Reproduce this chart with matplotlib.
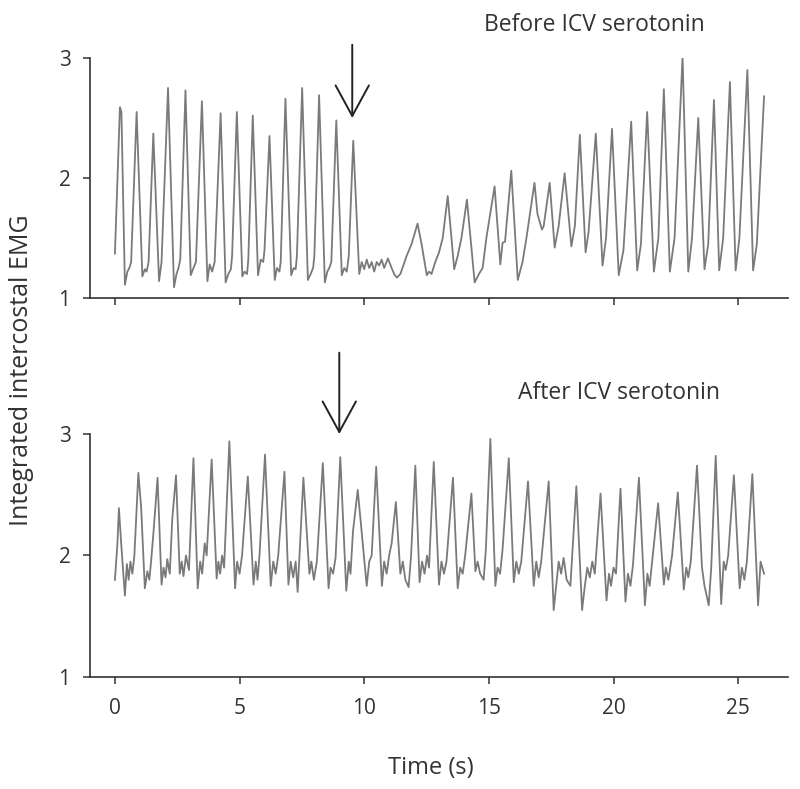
import matplotlib.pyplot as plt

# Integrated intercostal EMG, keypoints (time in s, arbitrary units)
before_t = [0.0, 0.2, 0.26, 0.4, 0.5, 0.58, 0.65,
            0.87, 1.1, 1.2, 1.27, 1.35,
            1.54, 1.77, 1.87,
            2.13, 2.37, 2.47, 2.55, 2.62,
            2.83, 3.04, 3.15, 3.25,
            3.49, 3.71, 3.8, 3.9, 4.0,
            4.24, 4.44, 4.55, 4.65, 4.7,
            4.89, 5.11, 5.2, 5.3, 5.35,
            5.53, 5.74, 5.85, 5.95, 6.0,
            6.2, 6.41, 6.5, 6.6, 6.65,
            6.84, 7.07, 7.17, 7.25, 7.3,
            7.51, 7.74, 7.85, 7.95, 8.0,
            8.19, 8.42, 8.52, 8.6, 8.68,
            8.88, 9.1, 9.2, 9.3, 9.38,
            9.56, 9.8, 9.9, 10.0, 10.1, 10.2, 10.3, 10.4, 10.5, 10.6, 10.7, 10.8,
            10.95, 11.1, 11.2, 11.31, 11.45,
            11.7, 11.9, 12.14, 12.3, 12.51, 12.6, 12.7, 12.85, 13.0, 13.15,
            13.35, 13.61, 13.75, 13.9, 14.12, 14.43, 14.6, 14.75, 14.9,
            15.23, 15.46, 15.55, 15.65, 15.9, 16.16, 16.35, 16.5, 16.83, 16.95, 17.13, 17.2,
            17.44, 17.64, 17.8, 18.04, 18.31, 18.45,
            18.65, 18.88, 19.0, 19.29, 19.56, 19.7, 19.94, 20.21, 20.4, 20.71, 20.95, 21.1,
            21.35, 21.62, 21.8, 22.02, 22.26, 22.45, 22.77, 23.0, 23.15, 23.4, 23.65, 23.8,
            24.03, 24.24, 24.4, 24.67, 24.9, 25.05, 25.37, 25.6, 25.75, 26.04]
before_v = [1.37, 2.59, 2.55, 1.11, 1.22, 1.25, 1.3,
            2.55, 1.18, 1.24, 1.22, 1.3,
            2.37, 1.14, 1.3,
            2.75, 1.09, 1.2, 1.25, 1.32,
            2.73, 1.19, 1.25, 1.3,
            2.64, 1.14, 1.28, 1.22, 1.3,
            2.54, 1.13, 1.2, 1.24, 1.35,
            2.55, 1.18, 1.22, 1.2, 1.32,
            2.52, 1.19, 1.32, 1.3, 1.4,
            2.35, 1.15, 1.25, 1.22, 1.3,
            2.66, 1.19, 1.25, 1.24, 1.35,
            2.75, 1.15, 1.2, 1.25, 1.35,
            2.69, 1.13, 1.22, 1.25, 1.3,
            2.48, 1.19, 1.25, 1.22, 1.35,
            2.31, 1.2, 1.3, 1.24, 1.32, 1.25, 1.3, 1.22, 1.3, 1.27, 1.32, 1.25,
            1.33, 1.25, 1.2, 1.17, 1.2,
            1.35, 1.45, 1.62, 1.45, 1.19, 1.22, 1.2, 1.3, 1.38, 1.5,
            1.85, 1.24, 1.35, 1.5, 1.82, 1.13, 1.2, 1.25, 1.5,
            1.93, 1.28, 1.46, 1.47, 2.06, 1.15, 1.3, 1.49, 1.96, 1.7, 1.57, 1.6,
            1.96, 1.42, 1.6, 2.04, 1.43, 1.6,
            2.36, 1.38, 1.55, 2.37, 1.27, 1.5, 2.41, 1.19, 1.4, 2.47, 1.23, 1.45,
            2.55, 1.22, 1.5, 2.74, 1.22, 1.5, 3.01, 1.22, 1.5, 2.5, 1.24, 1.45,
            2.65, 1.23, 1.5, 2.8, 1.23, 1.5, 2.9, 1.23, 1.45, 2.68]

after_t = [0.0, 0.1, 0.16, 0.25, 0.4, 0.48, 0.55, 0.62, 0.7, 0.78,
           0.94, 1.05, 1.2, 1.3, 1.38, 1.45, 1.55,
           1.71, 1.87, 1.95, 2.03, 2.1, 2.2, 2.3,
           2.45, 2.6, 2.68, 2.75, 2.85, 2.97,
           3.15, 3.32, 3.42, 3.5, 3.6, 3.68,
           3.88, 4.08, 4.15, 4.22, 4.3, 4.38,
           4.59, 4.82, 4.9, 5.0, 5.1,
           5.33, 5.56, 5.65, 5.72, 5.8,
           6.02, 6.25, 6.35, 6.45, 6.55,
           6.8, 6.96, 7.05, 7.15, 7.25, 7.33,
           7.56, 7.8, 7.88, 7.98, 8.1,
           8.34, 8.57, 8.65, 8.75, 8.85,
           9.04, 9.28, 9.38, 9.45, 9.55,
           9.74, 9.85, 10.1, 10.2, 10.3,
           10.48, 10.71, 10.8, 10.9, 11.0, 11.1,
           11.27, 11.45, 11.55, 11.65, 11.78, 11.88,
           12.05, 12.22, 12.32, 12.42, 12.52, 12.6,
           12.79, 13.0, 13.1, 13.2, 13.3,
           13.56, 13.75, 13.85, 13.95, 14.05,
           14.3, 14.46, 14.55, 14.65, 14.79, 14.88,
           15.06, 15.26, 15.35, 15.45, 15.55,
           15.8, 16.0, 16.1, 16.2, 16.3,
           16.57, 16.8, 16.9, 17.0, 17.1,
           17.4, 17.6, 17.7, 17.8, 17.9, 18.0, 18.12, 18.27,
           18.51, 18.74, 18.85, 18.95, 19.05, 19.15, 19.25,
           19.48, 19.72, 19.82, 19.9, 20.0, 20.1,
           20.28, 20.48, 20.58, 20.68, 20.78,
           21.02, 21.26, 21.36, 21.45, 21.55,
           21.79, 22.02, 22.1, 22.2, 22.35,
           22.58, 22.82, 22.92, 23.0, 23.1,
           23.35, 23.55, 23.65, 23.82, 23.92,
           24.1, 24.32, 24.42, 24.5, 24.6,
           24.83, 25.06, 25.15, 25.25, 25.35,
           25.57, 25.8, 25.9, 26.04]
after_v = [1.8, 2.1, 2.39, 2.1, 1.67, 1.93, 1.8, 1.95, 1.85, 2.0,
           2.68, 2.4, 1.73, 1.87, 1.8, 1.95, 2.2,
           2.64, 1.76, 1.9, 1.82, 1.97, 1.85, 2.3,
           2.66, 1.85, 1.95, 1.83, 2.0, 1.88,
           2.8, 1.73, 1.95, 1.85, 2.1, 2.0,
           2.79, 1.81, 1.95, 1.85, 2.0, 1.9,
           2.94, 1.73, 1.95, 1.85, 2.0,
           2.65, 1.76, 1.95, 1.8, 2.0,
           2.83, 1.75, 1.95, 1.85, 2.0,
           2.69, 1.76, 1.95, 1.82, 1.95, 1.7,
           2.64, 1.85, 1.95, 1.8, 1.95,
           2.76, 1.73, 1.9, 1.85, 1.98,
           2.81, 1.71, 1.95, 1.85, 2.2,
           2.54, 2.3, 1.75, 1.95, 2.0,
           2.73, 1.75, 1.95, 1.85, 2.0, 2.1,
           2.44, 1.85, 1.95, 1.8, 1.74, 2.0,
           2.74, 1.78, 1.95, 1.85, 2.0, 1.9,
           2.77, 1.76, 1.95, 1.85, 1.95,
           2.64, 1.73, 1.9, 1.85, 2.0,
           2.51, 1.87, 1.95, 1.85, 1.8, 2.05,
           2.96, 1.75, 1.9, 1.85, 2.05,
           2.8, 1.78, 1.95, 1.85, 1.95,
           2.61, 1.75, 1.95, 1.82, 1.95,
           2.61, 1.55, 1.75, 1.95, 1.85, 1.98, 1.8, 1.75,
           2.57, 1.55, 1.75, 1.9, 1.82, 1.95, 1.85,
           2.51, 1.63, 1.85, 1.75, 1.9, 1.85,
           2.55, 1.62, 1.85, 1.75, 1.92,
           2.64, 1.59, 1.85, 1.75, 1.95,
           2.43, 1.76, 1.9, 1.8, 2.0,
           2.52, 1.72, 1.9, 1.82, 1.95,
           2.74, 1.9, 1.75, 1.59, 1.9,
           2.82, 1.6, 1.95, 1.88, 2.0,
           2.66, 1.73, 1.9, 1.8, 1.95,
           2.67, 1.59, 1.95, 1.85]

x_ticks = [0, 5, 10, 15, 20, 25]
y_ticks = [1, 2, 3]
arrow_before = (9.52, 3.11, 2.5)   # time, start, tip
arrow_after = (9.0, 3.67, 3.0)

plt.rcParams['font.family'] = ['Open Sans', 'DejaVu Sans']
ink = '#333333'
trace = '#7a7a7a'

fig = plt.figure(figsize=(8, 7.89), dpi=100)
ax1 = fig.add_axes([0.1125, 0.6223, 0.8725, 0.3042])
ax2 = fig.add_axes([0.1125, 0.1420, 0.8725, 0.3079])

for ax, t, v, arr in [(ax1, before_t, before_v, arrow_before),
                      (ax2, after_t, after_v, arrow_after)]:
    ax.plot(t, v, color=trace, lw=1.3)
    ax.set_xlim(-1, 27)
    ax.set_ylim(1, 3)
    ax.set_xticks(x_ticks)
    ax.set_yticks(y_ticks)
    for s in ['top', 'right']:
        ax.spines[s].set_visible(False)
    for s in ['left', 'bottom']:
        ax.spines[s].set_color(ink)
        ax.spines[s].set_linewidth(1.2)
    ax.tick_params(direction='out', length=5, width=1.1, color=ink,
                   labelcolor=ink, labelsize=15)
    ax.tick_params(axis='y', pad=9)
    ax.tick_params(axis='x', pad=10)
    ax.annotate('', xy=(arr[0], arr[2]), xytext=(arr[0], arr[1]),
                annotation_clip=False,
                arrowprops=dict(arrowstyle='->,head_length=1.1,head_width=0.6',
                                mutation_scale=20, lw=1.4, color='#222222',
                                shrinkA=0, shrinkB=0))

ax1.tick_params(axis='x', labelbottom=False)

fig.text(594 / 800, 1 - 25 / 789, 'Before ICV serotonin', ha='center', va='center',
         fontsize=16.5, color=ink)
fig.text(619 / 800, 1 - 393 / 789, 'After ICV serotonin', ha='center', va='center',
         fontsize=16.5, color=ink)
fig.text(22 / 800, 1 - 370 / 789, 'Integrated intercostal EMG', ha='center', va='center',
         rotation=90, fontsize=18, color=ink)
fig.text(431 / 800, 1 - 768 / 789, 'Time (s)', ha='center', va='center',
         fontsize=17, color=ink)

fig.savefig('out.png', dpi=100)
